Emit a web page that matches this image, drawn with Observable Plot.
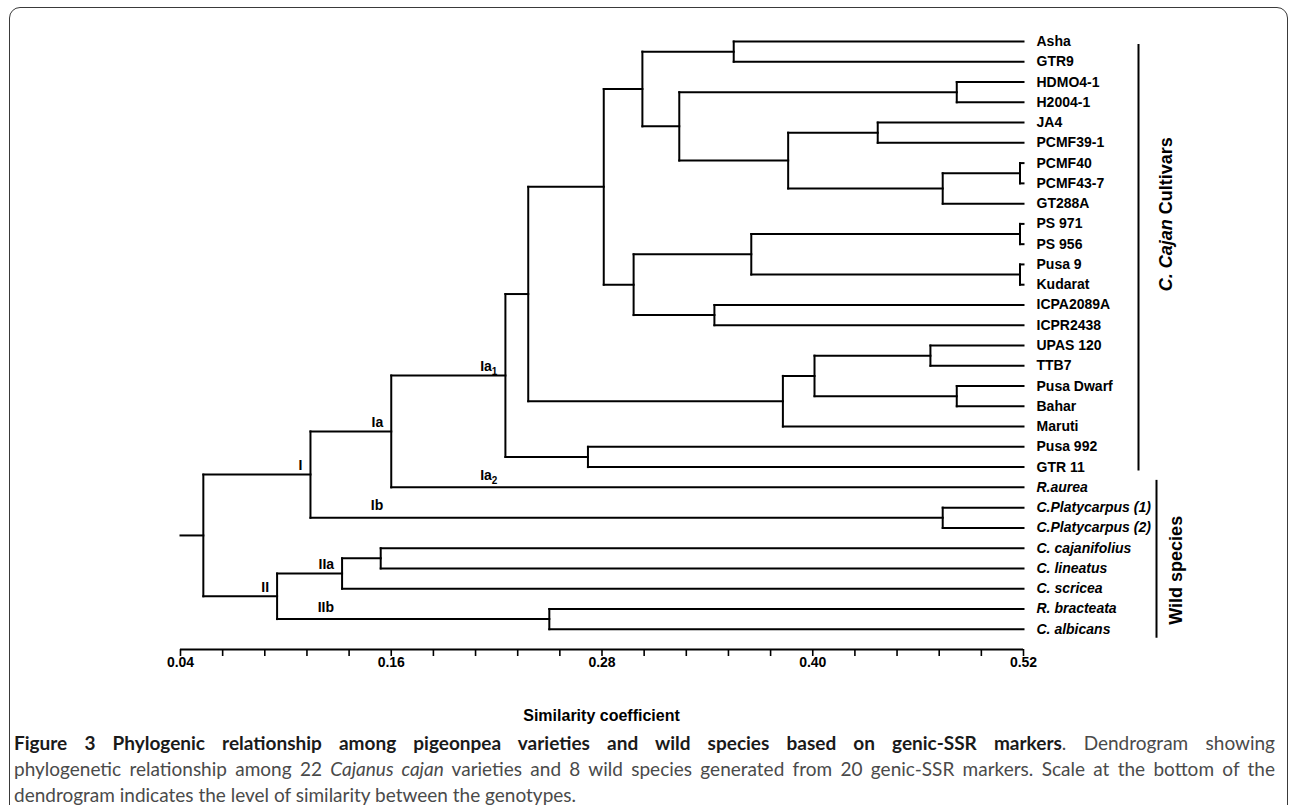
<!DOCTYPE html>
<html>
<head>
<meta charset="utf-8">
<script src="https://cdn.jsdelivr.net/npm/d3@7"></script>
<script src="https://cdn.jsdelivr.net/npm/@observablehq/plot@0.6"></script>
<style>
  html, body { margin: 0; padding: 0; background: #fff; }
  body { width: 1290px; height: 805px; overflow: hidden; position: relative; font-family: "Liberation Sans", Arial, sans-serif; }
  #frame { position: absolute; left: 9px; top: 7px; width: 1279px; height: 900px; border: 1.5px solid #3a3a3a; border-radius: 11px; box-sizing: border-box; }
  #chart { position: absolute; left: 0; top: 0; }
  #xtitle { position: absolute; left: 180px; width: 843px; top: 707px; text-align: center; font: bold 16px "Liberation Sans", Arial, sans-serif; color: #000; }
  #caption { position: absolute; left: 14px; width: 1261px; top: 730px; font-family: Lato, "Open Sans", sans-serif; font-size: 19px; line-height: 26px; color: #4a4a4a; }
  #caption .l { text-align: justify; text-align-last: justify; white-space: nowrap; }
  #caption .last { text-align: left; text-align-last: left; }
  #caption b { color: #1a1a1a; }
</style>
</head>
<body>
<div id="frame"></div>
<div id="chart"></div>
<div id="xtitle">Similarity coefficient</div>
<div id="caption">
  <div class="l"><b>Figure 3 Phylogenic relationship among pigeonpea varieties and wild species based on genic-SSR markers</b>. Dendrogram showing</div>
  <div class="l">phylogenetic relationship among 22 <i>Cajanus cajan</i> varieties and 8 wild species generated from 20 genic-SSR markers. Scale at the bottom of the</div>
  <div class="l last">dendrogram indicates the level of similarity between the genotypes.</div>
</div>
<script>
// ---- DATA ----
const cultivars = ["Asha","GTR9","HDMO4-1","H2004-1","JA4","PCMF39-1","PCMF40","PCMF43-7","GT288A",
  "PS 971","PS 956","Pusa 9","Kudarat","ICPA2089A","ICPR2438","UPAS 120","TTB7","Pusa Dwarf",
  "Bahar","Maruti","Pusa 992","GTR 11"];
const wild = ["R.aurea","C.Platycarpus (1)","C.Platycarpus (2)","C. cajanifolius","C. lineatus",
  "C. scricea","R. bracteata","C. albicans"];

// merges: [node, left child, right child, similarity at which they join]
const merges = [
  ["n1","Asha","GTR9",0.355],
  ["n2","HDMO4-1","H2004-1",0.482],
  ["n3","JA4","PCMF39-1",0.437],
  ["n4","PCMF40","PCMF43-7",0.518],
  ["n5","n4","GT288A",0.474],
  ["n6","n3","n5",0.386],
  ["n7","n2","n6",0.324],
  ["n8","n1","n7",0.303],
  ["n9","PS 971","PS 956",0.518],
  ["n10","Pusa 9","Kudarat",0.518],
  ["n11","n9","n10",0.365],
  ["n12","ICPA2089A","ICPR2438",0.344],
  ["n13","n11","n12",0.298],
  ["n14","n8","n13",0.281],
  ["n15","UPAS 120","TTB7",0.467],
  ["n16","Pusa Dwarf","Bahar",0.482],
  ["n17","n15","n16",0.401],
  ["n18","n17","Maruti",0.383],
  ["n19","n14","n18",0.238],
  ["n20","Pusa 992","GTR 11",0.272],
  ["Ia1","n19","n20",0.225],
  ["Ia","Ia1","R.aurea",0.160],
  ["Ib","C.Platycarpus (1)","C.Platycarpus (2)",0.474],
  ["I","Ia","Ib",0.114],
  ["n21","C. cajanifolius","C. lineatus",0.154],
  ["IIa","n21","C. scricea",0.132],
  ["IIb","R. bracteata","C. albicans",0.250],
  ["II","IIa","IIb",0.095],
  ["root","I","II",0.053]
];

// clade labels: upper branch labels and lower branch labels (aligned with their sibling's label)
const upperLabels = [
  {text: "I", clade: "I"},
  {text: "Ia", clade: "Ia"},
  {text: "Ia₁", clade: "Ia1"},
  {text: "II", clade: "II"},
  {text: "IIa", clade: "IIa"}
];
const lowerLabels = [
  {text: "Ib", clade: "Ib", alignWith: "Ia"},
  {text: "Ia₂", clade: "R.aurea", alignWith: "Ia1"},
  {text: "IIb", clade: "IIb", alignWith: "IIa"}
];

const groups = [
  {name: "C. Cajan Cultivars", first: "Asha", last: "GTR 11"},
  {name: "Wild species", first: "R.aurea", last: "C. albicans"}
];

const axisStart = 0.04, axisEnd = 0.52, leafLevel = 0.52;
const minorTicks = [0.04,0.064,0.088,0.112,0.136,0.16,0.184,0.208,0.232,0.256,0.28,0.304,0.328,0.352,0.376,0.40,0.424,0.448,0.472,0.496,0.52];
const majorTicks = [0.04,0.16,0.28,0.40,0.52];

// ---- LAYOUT FROM DATA ----
const leaves = cultivars.concat(wild);
const leafIndex = new Map(leaves.map((d, i) => [d, i]));
const pos = new Map();
leaves.forEach((d, i) => pos.set(d, {x: leafLevel, y: i}));
const segments = [];
for (const [node, a, b, s] of merges) {
  const pa = pos.get(a), pb = pos.get(b);
  pos.set(node, {x: s, y: (pa.y + pb.y) / 2});
  segments.push({x1: s, y1: pa.y, x2: s, y2: pb.y});
  segments.push({x1: s, y1: pa.y, x2: pa.x, y2: pa.y});
  segments.push({x1: s, y1: pb.y, x2: pb.x, y2: pb.y});
}
const root = pos.get("root");
segments.push({x1: axisStart, y1: root.y, x2: root.x, y2: root.y});

const font = "Liberation Sans, Arial, Helvetica, sans-serif";
const nLeaves = leaves.length; // axis sits one leaf-step below the last leaf

const chart = Plot.plot({
  width: 1290,
  height: 700,
  marginLeft: 180,
  marginRight: 267,
  marginTop: 41,
  marginBottom: 51,
  style: {fontFamily: font, background: "transparent", overflow: "visible"},
  x: {domain: [axisStart, axisEnd], axis: null},
  y: {domain: [0, nLeaves], reverse: true, axis: null},
  marks: [
    Plot.link(segments, {x1: "x1", y1: "y1", x2: "x2", y2: "y2", stroke: "#000", strokeWidth: 2, strokeLinecap: "square"}),
    // x axis
    Plot.ruleY([nLeaves], {x1: axisStart, x2: axisEnd, stroke: "#000", strokeWidth: 2}),
    Plot.ruleX(minorTicks, {x: d => d, y1: nLeaves, y2: nLeaves, insetBottom: -7, stroke: "#000", strokeWidth: 1.6}),
    Plot.text(majorTicks, {x: d => d, y: nLeaves, dy: 13, text: d => d.toFixed(2), fontSize: 14, fontWeight: "bold", fill: "#000"}),
    // leaf labels
    Plot.text(cultivars, {x: leafLevel, y: d => leafIndex.get(d), text: d => d, textAnchor: "start", dx: 13, fontSize: 14, fontWeight: "bold", fill: "#000"}),
    Plot.text(wild, {x: leafLevel, y: d => leafIndex.get(d), text: d => d, textAnchor: "start", dx: 13, fontSize: 14, fontWeight: "bold", fontStyle: "italic", fill: "#000"}),
    // clade labels
    Plot.text(upperLabels, {x: d => pos.get(d.clade).x, y: d => pos.get(d.clade).y, text: "text", textAnchor: "end", dx: -8, dy: -9, fontSize: 14, fontWeight: "bold", fill: "#000"}),
    Plot.text(lowerLabels, {x: d => pos.get(d.alignWith).x, y: d => pos.get(d.clade).y, text: "text", textAnchor: "end", dx: -8, dy: -12, fontSize: 14, fontWeight: "bold", fill: "#000"}),
    // group brackets
    Plot.ruleX([groups[0]], {x: leafLevel, y1: d => leafIndex.get(d.first), y2: d => leafIndex.get(d.last), dx: 115, insetTop: 3, insetBottom: -4, stroke: "#000", strokeWidth: 2}),
    Plot.ruleX([groups[1]], {x: leafLevel, y1: d => leafIndex.get(d.first), y2: d => leafIndex.get(d.last), dx: 133, insetTop: -7, insetBottom: -9, stroke: "#000", strokeWidth: 2}),
    // group names
    Plot.text([groups[0]], {x: leafLevel, y: d => (leafIndex.get(d.first) + leafIndex.get(d.last)) / 2, text: "name", rotate: -90, dx: 143, dy: -40, fontSize: 18, fontWeight: "bold", fill: "#000"}),
    Plot.text([groups[1]], {x: leafLevel, y: d => (leafIndex.get(d.first) + leafIndex.get(d.last)) / 2, text: "name", rotate: -90, dx: 153, dy: 12, fontSize: 18, fontWeight: "bold", fill: "#000"})
  ]
});
document.getElementById("chart").appendChild(chart);

// rich-text touches: italic genus in the cultivar group label, subscripts in clade labels
d3.select(chart).selectAll("text").each(function() {
  const t = this.textContent;
  const sel = d3.select(this);
  if (t === "C. Cajan Cultivars") {
    sel.text(null);
    sel.append("tspan").attr("font-style", "italic").text("C. Cajan");
    sel.append("tspan").text(" Cultivars");
  } else if (/[₁₂]/.test(t)) {
    const base = t.replace(/[₁₂]/g, "");
    const sub = t.includes("₁") ? "1" : "2";
    sel.text(null);
    sel.append("tspan").text(base);
    sel.append("tspan").attr("font-size", 10).attr("dy", 4).text(sub);
  }
});
</script>
</body>
</html>
